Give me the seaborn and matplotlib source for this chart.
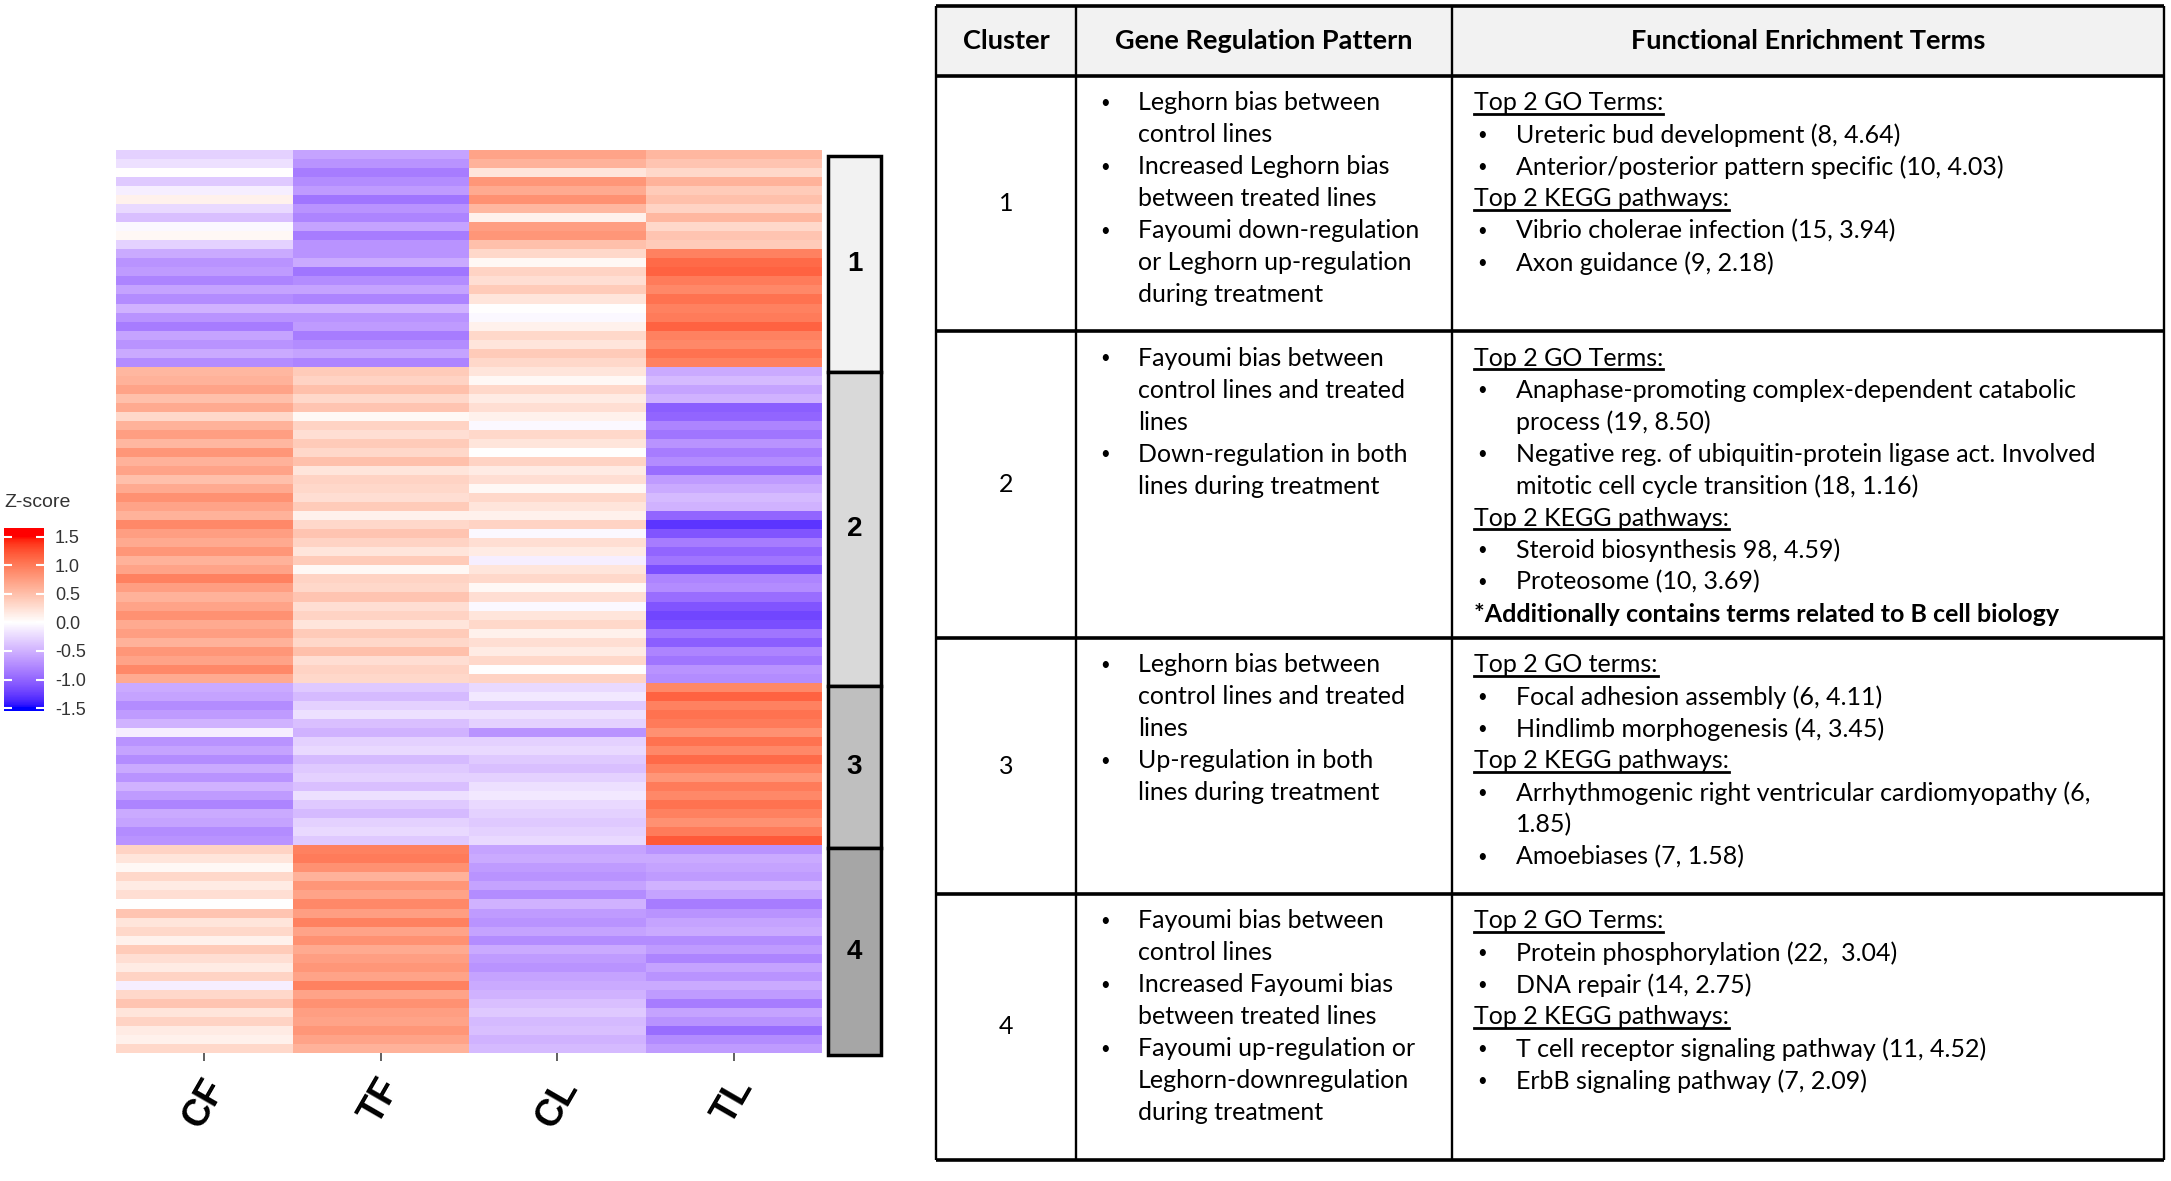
import numpy as np
import pandas as pd
import matplotlib
matplotlib.use("Agg")
import matplotlib.pyplot as plt
import seaborn as sns
from matplotlib.colors import ListedColormap
from matplotlib.patches import Rectangle

# -----------------------------
# DATA (z-scores, cluster by cluster)
# -----------------------------
COLUMNS = ["CF", "TF", "CL", "TL"]

CF_1 = [-0.30, -0.20, 0.00, -0.35, -0.10, 0.10, -0.25, -0.40, -0.05, 0.05, -0.30,
        -0.55, -0.70, -0.65, -0.80, -0.60, -0.75, -0.50, -0.70, -0.85, -0.60, -0.70, -0.55, -0.75]
TF_1 = [-0.60, -0.70, -0.85, -0.75, -0.65, -0.90, -0.70, -0.80, -0.60, -0.85, -0.70,
        -0.70, -0.55, -0.90, -0.75, -0.60, -0.80, -0.50, -0.70, -0.65, -0.85, -0.75, -0.60, -0.80]
CL_1 = [0.70, 0.60, 0.20, 0.80, 0.65, 0.85, 0.55, 0.10, 0.75, 0.80, 0.50,
        0.30, 0.05, 0.35, 0.25, 0.40, 0.20, 0.00, -0.05, 0.10, 0.30, 0.20, 0.40, 0.30]
TL_1 = [0.55, 0.45, 0.30, 0.60, 0.40, 0.50, 0.35, 0.55, 0.30, 0.45, 0.40,
        0.95, 1.10, 1.15, 1.00, 0.90, 1.05, 0.95, 1.00, 1.15, 0.95, 0.90, 1.05, 0.95]

CF_2 = [0.55, 0.60, 0.70, 0.50, 0.65, 0.30, 0.60, 0.75, 0.55, 0.80, 0.60, 0.70, 0.50, 0.65, 0.85, 0.70, 0.60, 0.90,
        0.75, 0.65, 0.80, 0.60, 0.70, 0.95, 0.75, 0.60, 0.70, 0.85, 0.65, 0.75, 0.60, 0.80, 0.70, 0.90, 0.65]
TF_2 = [0.40, 0.35, 0.50, 0.30, 0.45, 0.05, 0.35, 0.25, 0.40, 0.30, 0.50, 0.20, 0.35, 0.30, 0.25, 0.40, 0.10, 0.30,
        0.45, 0.35, 0.20, 0.40, 0.05, 0.35, 0.30, 0.45, 0.25, 0.35, 0.20, 0.40, 0.30, 0.50, 0.25, 0.35, 0.30]
CL_2 = [0.20, 0.05, 0.30, 0.15, 0.25, 0.10, -0.05, 0.30, 0.20, 0.00, 0.35, 0.15, 0.25, 0.05, 0.30, 0.20, 0.10, 0.35,
        -0.05, 0.25, 0.15, -0.10, 0.20, 0.30, 0.05, 0.25, -0.05, 0.20, 0.30, 0.10, 0.25, 0.15, 0.30, 0.00, 0.35]
TL_2 = [-0.55, -0.45, -0.60, -0.50, -1.05, -1.00, -0.80, -0.90, -0.70, -0.85, -0.75, -0.95, -0.65, -0.55, -0.45,
        -0.50, -1.00, -1.30, -1.10, -0.85, -1.00, -0.90, -1.15, -0.80, -0.75, -0.95, -1.10, -1.20, -1.15, -0.90,
        -1.05, -0.80, -0.90, -0.70, -0.75]

CF_3 = [-0.55, -0.60, -0.75, -0.65, -0.50, -0.10, -0.70, -0.60, -0.75, -0.55, -0.70, -0.50, -0.65, -0.80, -0.55,
        -0.60, -0.75, -0.70]
TF_3 = [-0.35, -0.45, -0.30, -0.20, -0.40, -0.50, -0.30, -0.25, -0.45, -0.35, -0.30, -0.40, -0.20, -0.35, -0.45,
        -0.30, -0.25, -0.35]
CL_3 = [-0.25, -0.15, -0.35, -0.20, -0.30, -0.70, -0.30, -0.25, -0.35, -0.40, -0.30, -0.20, -0.15, -0.25, -0.30,
        -0.35, -0.30, -0.25]
TL_3 = [0.90, 1.15, 0.95, 1.05, 1.00, 0.85, 1.05, 0.90, 1.10, 0.95, 0.80, 1.00, 0.90, 1.05, 0.95, 0.85, 1.00, 1.20]

CF_4 = [0.35, 0.20, 0.05, 0.30, 0.15, 0.25, 0.00, 0.45, 0.20, 0.30, 0.10, 0.40, 0.25, 0.15, 0.35, -0.10, 0.30, 0.45,
        0.20, 0.35, 0.15, 0.10, 0.30]
TF_4 = [0.95, 1.00, 0.85, 0.60, 0.80, 0.70, 0.90, 0.75, 0.95, 0.70, 0.85, 0.65, 0.75, 0.80, 0.70, 0.95, 0.70, 0.85,
        0.75, 0.70, 0.80, 0.70, 0.60]
CL_4 = [-0.60, -0.55, -0.65, -0.70, -0.60, -0.75, -0.50, -0.65, -0.70, -0.60, -0.75, -0.55, -0.65, -0.70, -0.60,
        -0.55, -0.50, -0.40, -0.35, -0.45, -0.40, -0.50, -0.45]
TL_4 = [-0.70, -0.55, -0.60, -0.65, -0.50, -0.60, -0.85, -0.70, -0.60, -0.55, -0.75, -0.65, -0.80, -0.60, -0.70,
        -0.55, -0.65, -0.85, -0.60, -0.70, -0.95, -0.75, -0.65]

CLUSTER_LABELS = ["1", "2", "3", "4"]
CLUSTER_COLORS = ["#f2f2f2", "#d9d9d9", "#bfbfbf", "#a6a6a6"]
LEGEND_TICKS = [-1.5, -1.0, -0.5, 0.0, 0.5, 1.0, 1.5]

# table text
HEADERS = ["Cluster", "Gene Regulation Pattern", "Functional Enrichment Terms"]
PATTERNS = [
    [["Leghorn bias between", "control lines"], ["Increased Leghorn bias", "between treated lines"],
     ["Fayoumi down-regulation", "or Leghorn up-regulation", "during treatment"]],
    [["Fayoumi bias between", "control lines and treated", "lines"],
     ["Down-regulation in both", "lines during treatment"]],
    [["Leghorn bias between", "control lines and treated", "lines"],
     ["Up-regulation in both", "lines during treatment"]],
    [["Fayoumi bias between", "control lines"], ["Increased Fayoumi bias", "between treated lines"],
     ["Fayoumi up-regulation or", "Leghorn-downregulation", "during treatment"]],
]
GO_HEADS = ["Top 2 GO Terms:", "Top 2 GO Terms:", "Top 2 GO terms:", "Top 2 GO Terms:"]
GO_TERMS = [
    [["Ureteric bud development (8, 4.64)"], ["Anterior/posterior pattern specific (10, 4.03)"]],
    [["Anaphase-promoting complex-dependent catabolic", "process (19, 8.50)"],
     ["Negative reg. of ubiquitin-protein ligase act. Involved", "mitotic cell cycle transition (18, 1.16)"]],
    [["Focal adhesion assembly (6, 4.11)"], ["Hindlimb morphogenesis (4, 3.45)"]],
    [["Protein phosphorylation (22,  3.04)"], ["DNA repair (14, 2.75)"]],
]
KEGG_HEAD = "Top 2 KEGG pathways:"
KEGG_TERMS = [
    [["Vibrio cholerae infection (15, 3.94)"], ["Axon guidance (9, 2.18)"]],
    [["Steroid biosynthesis 98, 4.59)"], ["Proteosome (10, 3.69)"]],
    [["Arrhythmogenic right ventricular cardiomyopathy (6,", "1.85)"], ["Amoebiases (7, 1.58)"]],
    [["T cell receptor signaling pathway (11, 4.52)"], ["ErbB signaling pathway (7, 2.09)"]],
]
NOTES = ["", "*Additionally contains terms related to B cell biology", "", ""]

# -----------------------------
# LAYOUT (pixels of the 2171x1181 canvas)
# -----------------------------
W, H = 2171, 1181
ZMIN, ZMAX = -1.55, 1.65
TABLE_X = [936, 1076, 1452, 2164]
TABLE_Y = [6, 76, 331, 638, 894, 1160]
LINE = 32
TEXT_FONT = "Lato"
TEXT_SIZE = 18
HEAD_SIZE = 19.5


def box(x0, y0, x1, y1):
    return [x0 / W, 1 - y1 / H, (x1 - x0) / W, (y1 - y0) / H]


# blue-white-red ramp interpolated in LAB space (like colorRamp2)
M = np.array([[0.4124, 0.3576, 0.1805], [0.2126, 0.7152, 0.0722], [0.0193, 0.1192, 0.9505]])
WHITE = np.array([0.95047, 1.0, 1.08883])


def to_lab(rgb):
    c = np.asarray(rgb, float)
    lin = np.where(c <= 0.04045, c / 12.92, ((c + 0.055) / 1.055) ** 2.4)
    xyz = M @ lin / WHITE
    f = np.where(xyz > 0.008856, np.cbrt(xyz), 7.787 * xyz + 16 / 116)
    return np.array([116 * f[1] - 16, 500 * (f[0] - f[1]), 200 * (f[1] - f[2])])


def from_lab(lab):
    fy = (lab[0] + 16) / 116
    f = np.array([fy + lab[1] / 500, fy, fy - lab[2] / 200])
    xyz = np.where(f ** 3 > 0.008856, f ** 3, (f - 16 / 116) / 7.787) * WHITE
    lin = np.clip(np.linalg.solve(M, xyz), 0, 1)
    return np.where(lin <= 0.0031308, 12.92 * lin, 1.055 * lin ** (1 / 2.4) - 0.055)


lab_blue, lab_white, lab_red = to_lab([0, 0, 1]), to_lab([1, 1, 1]), to_lab([1, 0, 0])
ramp = []
for v in np.linspace(ZMIN, ZMAX, 256):
    t = min(abs(v) / 1.5, 1.0)
    end = lab_blue if v < 0 else lab_red
    ramp.append(np.clip(from_lab(lab_white + t * (end - lab_white)), 0, 1))
cmap = ListedColormap(ramp)

# -----------------------------
# HEATMAP
# -----------------------------
df = pd.DataFrame({
    "CF": CF_1 + CF_2 + CF_3 + CF_4,
    "TF": TF_1 + TF_2 + TF_3 + TF_4,
    "CL": CL_1 + CL_2 + CL_3 + CL_4,
    "TL": TL_1 + TL_2 + TL_3 + TL_4,
})[COLUMNS]
sizes = [len(CF_1), len(CF_2), len(CF_3), len(CF_4)]
starts = np.cumsum([0] + sizes[:-1])

fig = plt.figure(figsize=(W / 100, H / 100), dpi=100)
hm_ax = fig.add_axes(box(116, 150, 822, 1053))
bar_ax = fig.add_axes(box(828, 156, 881, 1055))
cb_ax = fig.add_axes(box(4, 528, 44, 711))

sns.heatmap(df, ax=hm_ax, cmap=cmap, vmin=ZMIN, vmax=ZMAX, cbar_ax=cb_ax,
            xticklabels=True, yticklabels=False, linewidths=0)
hm_ax.set_xlabel("")
hm_ax.set_ylabel("")
hm_ax.set_xticklabels(COLUMNS, rotation=60, ha="center", va="top",
                      fontsize=27, fontweight="bold", family="Liberation Sans")
hm_ax.tick_params(axis="x", length=6, width=1.2, color="#444444", pad=8)

cbar = hm_ax.collections[0].colorbar
cbar.set_ticks(LEGEND_TICKS)
cbar.set_ticklabels([f"{t:.1f}" for t in LEGEND_TICKS])
cbar.outline.set_visible(False)
cb_ax.yaxis.set_ticks_position("both")
cb_ax.tick_params(direction="in", color="white", length=6, width=1.5,
                  labelcolor="#333333", labelsize=13, pad=8, labelleft=False, labelright=True)
for t in cb_ax.get_yticklabels():
    t.set_family("Liberation Sans")
fig.text(4 / W, 1 - 503 / H, "Z-score", ha="left", va="center",
         fontsize=14, color="#333333", family="Liberation Sans")

# cluster annotation bar
bars = bar_ax.bar(0, sizes, bottom=starts, width=1, color=CLUSTER_COLORS,
                  edgecolor="black", linewidth=2.5)
for p in bars:
    p.set_clip_on(False)
for lab, s0, n in zip(CLUSTER_LABELS, starts, sizes):
    bar_ax.text(0, s0 + n / 2, lab, ha="center", va="center", fontsize=20,
                fontweight="bold", family="Liberation Sans")
bar_ax.set_xlim(-0.5, 0.5)
bar_ax.set_ylim(sum(sizes), 0)
bar_ax.axis("off")

# -----------------------------
# TABLE
# -----------------------------
tab = fig.add_axes([0, 0, 1, 1])
tab.set_xlim(0, W)
tab.set_ylim(H, 0)
tab.axis("off")
tab.patch.set_alpha(0)

tab.add_patch(Rectangle((TABLE_X[0], TABLE_Y[0]), TABLE_X[-1] - TABLE_X[0], TABLE_Y[1] - TABLE_Y[0],
                        facecolor="#f2f2f2", edgecolor="none"))
for y in TABLE_Y:
    tab.plot([TABLE_X[0], TABLE_X[-1]], [y, y], color="black", lw=2.6, solid_capstyle="butt")
for x in TABLE_X:
    tab.plot([x, x], [TABLE_Y[0], TABLE_Y[-1]], color="black", lw=1.7, solid_capstyle="butt")

txt = dict(family=TEXT_FONT, fontsize=TEXT_SIZE, va="center", color="black")
dot = dict(family=TEXT_FONT, fontsize=12, va="center", color="black")
header_y = (TABLE_Y[0] + TABLE_Y[1]) / 2
for h, x0, x1 in zip(HEADERS, TABLE_X[:-1], TABLE_X[1:]):
    tab.text((x0 + x1) / 2, header_y, h, ha="center", va="center", fontweight="bold",
             family=TEXT_FONT, fontsize=HEAD_SIZE)

underlined = []


def bullets(items, y, xb, xt):
    for item in items:
        for j, line in enumerate(item):
            if j == 0:
                tab.text(xb, y, "•", ha="left", **dot)
            tab.text(xt, y, line, ha="left", **txt)
            y += LINE
    return y


for i in range(4):
    top, bottom = TABLE_Y[i + 1], TABLE_Y[i + 2]
    tab.text((TABLE_X[0] + TABLE_X[1]) / 2, (top + bottom) / 2, CLUSTER_LABELS[i], ha="center", **txt)
    bullets(PATTERNS[i], top + 27, 1100, 1138)

    y = top + 27
    underlined.append(tab.text(1474, y, GO_HEADS[i], ha="left", **txt))
    y = bullets(GO_TERMS[i], y + LINE, 1477, 1516)
    underlined.append(tab.text(1474, y, KEGG_HEAD, ha="left", **txt))
    y = bullets(KEGG_TERMS[i], y + LINE, 1477, 1516)
    if NOTES[i]:
        tab.text(1474, y, NOTES[i], ha="left", fontweight="bold", **txt)

# underline the section headings
fig.canvas.draw()
renderer = fig.canvas.get_renderer()
inv = tab.transData.inverted()
for t in underlined:
    bb = t.get_window_extent(renderer)
    (x0, y0), (x1, y1) = inv.transform([[bb.x0, bb.y0], [bb.x1, bb.y1]])
    tab.plot([x0, x1], [max(y0, y1) - 1, max(y0, y1) - 1], color="black", lw=2)

fig.savefig("out.png", dpi=100)
